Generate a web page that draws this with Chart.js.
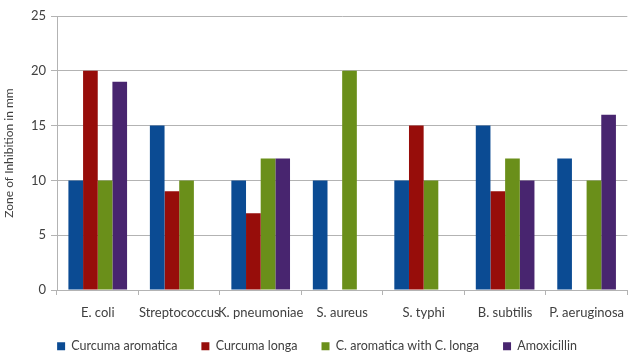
<!DOCTYPE html>
<html lang="en">
<head>
    <meta charset="UTF-8">
    <title>Zone of Inhibition</title>
    <style>
        html, body { margin: 0; padding: 0; background: #fff; }
        .grafico { width: 634px; height: 354px; }
    </style>
</head>
<body>
    <div class="grafico">
        <canvas id="myChart" width="634" height="354"></canvas>
    </div>
    <script src="https://cdn.jsdelivr.net/npm/chart.js"></script>
    <script>
        // dados
        const categorias = ["E. coli", "Streptococcus", "K. pneumoniae", "S. aureus", "S. typhi", "B. subtilis", "P. aeruginosa"];
        const curcumaAromatica = [10, 15, 10, 10, 10, 15, 12];
        const curcumaLonga = [20, 9, 7, null, 15, 9, null];
        const combinado = [10, 10, 12, 20, 10, 12, 10];
        const amoxicilina = [19, null, 12, null, null, 10, 16];
        const ticksY = [0, 5, 10, 15, 20, 25];

        const corTexto = '#404040';
        const corGrade = '#b3b3b3';

        let dados = {
            labels: categorias,
            datasets: [
                { label: 'Curcuma aromatica', data: curcumaAromatica, backgroundColor: '#0B4B93' },
                { label: 'Curcuma longa', data: curcumaLonga, backgroundColor: '#970D0A' },
                { label: 'C. aromatica with C. longa', data: combinado, backgroundColor: '#6A8F1A' },
                { label: 'Amoxicillin', data: amoxicilina, backgroundColor: '#48256F' }
            ]
        };

        Chart.defaults.font.family = 'Lato, "Open Sans", sans-serif';
        Chart.defaults.font.size = 13;
        Chart.defaults.color = corTexto;

        // legenda: altura fixa e desenhada 4px acima (o padding do Chart.js vale pros dois lados)
        const ajusteLegenda = {
            id: 'ajusteLegenda',
            afterInit(chart) {
                const legenda = chart.legend;
                const fitOriginal = legenda.fit.bind(legenda);
                const drawOriginal = legenda.draw.bind(legenda);
                legenda.fit = function () {
                    fitOriginal();
                    this.height = 34;
                };
                legenda.draw = function () {
                    const topo = this.top, altura = this.height;
                    this.top = topo - 4;
                    this.height = altura + 4;
                    drawOriginal();
                    this.top = topo;
                    this.height = altura;
                };
            }
        };

        const config = {
            type: 'bar',
            data: dados,
            options: {
                responsive: false,
                animation: false,
                categoryPercentage: 0.72,
                barPercentage: 1.0,
                layout: { padding: { top: 16, right: 0, left: 0, bottom: 0 } },
                plugins: {
                    tooltip: { enabled: false },
                    legend: {
                        position: 'bottom',
                        labels: { boxWidth: 8, boxHeight: 8, padding: 24, font: { size: 12.5 } }
                    }
                },
                scales: {
                    x: {
                        afterFit: function (axis) { axis.height = 30; },
                        grid: { offset: true, drawOnChartArea: false, color: corGrade, tickLength: 5 },
                        border: { color: corGrade },
                        ticks: { padding: 10, maxRotation: 0, autoSkip: false }
                    },
                    y: {
                        min: 0,
                        max: 25,
                        afterBuildTicks: function (axis) {
                            axis.ticks = ticksY.map(v => ({ value: v }));
                        },
                        afterFit: function (axis) { axis.width = 57; },
                        grid: { color: corGrade, tickLength: 6 },
                        border: { color: corGrade },
                        ticks: { padding: 5 },
                        title: { display: true, text: 'Zone of Inhibition in mm', font: { size: 12 }, padding: 2 }
                    }
                }
            },
            plugins: [ajusteLegenda]
        };

        let myChart = new Chart(document.getElementById('myChart'), config);
    </script>
</body>
</html>
